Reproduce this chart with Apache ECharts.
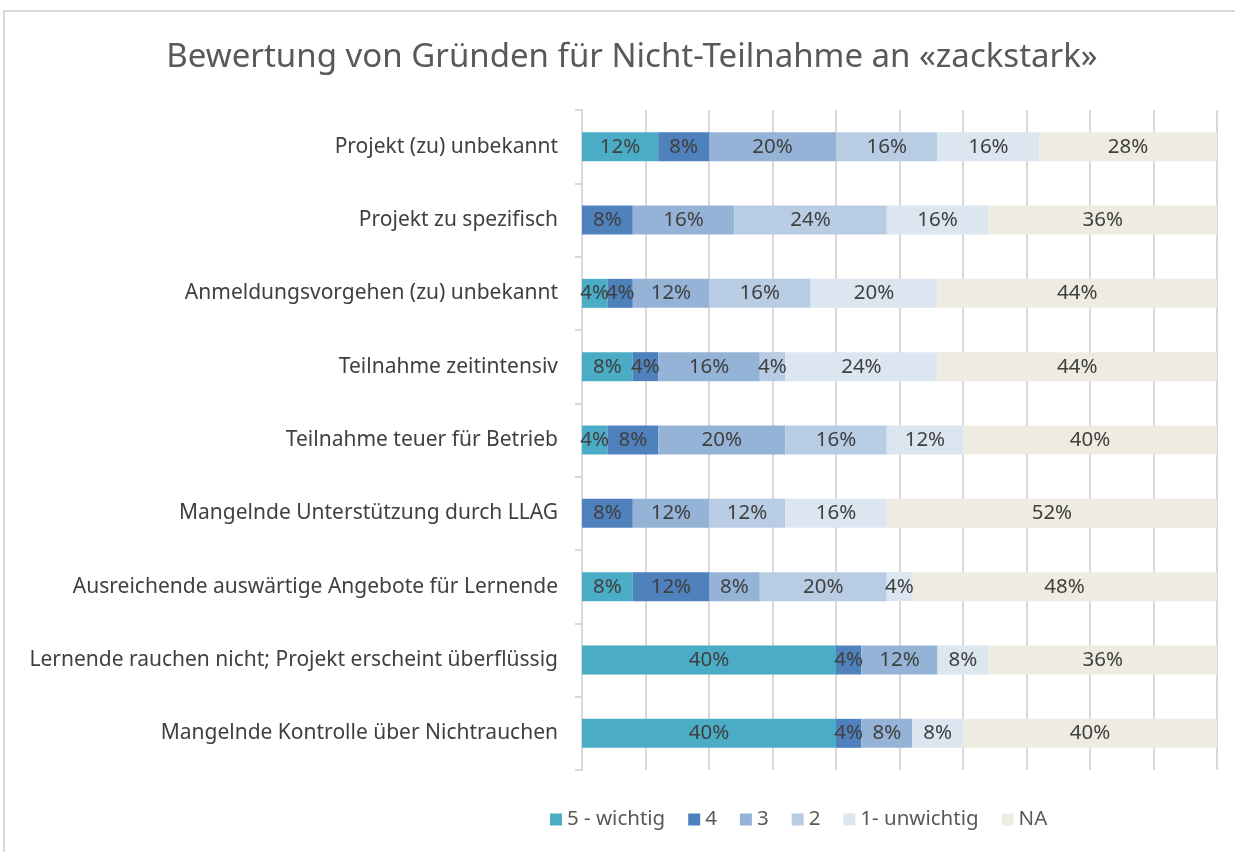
<!DOCTYPE html>
<html>
<head>
<meta charset="utf-8">
<script src="https://cdn.jsdelivr.net/npm/echarts@6/dist/echarts.min.js"></script>
<style>
  html, body { margin: 0; padding: 0; background: #fff; }
  #chart { width: 1235px; height: 852px; }
</style>
</head>
<body>
<div id="chart"></div>
<script>
// Kategorien (von oben nach unten)
const categories = [
  'Projekt (zu) unbekannt',
  'Projekt zu spezifisch',
  'Anmeldungsvorgehen (zu) unbekannt',
  'Teilnahme zeitintensiv',
  'Teilnahme teuer für Betrieb',
  'Mangelnde Unterstützung durch LLAG',
  'Ausreichende auswärtige Angebote für Lernende',
  'Lernende rauchen nicht; Projekt erscheint überflüssig',
  'Mangelnde Kontrolle über Nichtrauchen'
];

// Anteile in Prozent je Bewertung
const wichtig5   = [12, 0, 4, 8, 4, 0, 8, 40, 40];
const stufe4     = [8, 8, 4, 4, 8, 8, 12, 4, 4];
const stufe3     = [20, 16, 12, 16, 20, 12, 8, 12, 8];
const stufe2     = [16, 24, 16, 4, 16, 12, 20, 0, 0];
const unwichtig1 = [16, 16, 20, 24, 12, 16, 4, 8, 8];
const na         = [28, 36, 44, 44, 40, 52, 48, 36, 40];

const seriesNames = ['5 - wichtig', '4', '3', '2', '1- unwichtig', 'NA'];
const seriesData = [wichtig5, stufe4, stufe3, stufe2, unwichtig1, na];
const colors = ['#4bacc6', '#4f81bd', '#95b3d7', '#b8cce4', '#dce6f1', '#eeece1'];

const font = 'Noto Sans';

const chart = echarts.init(document.getElementById('chart'));
chart.setOption({
  animation: false,
  color: colors,
  textStyle: { fontFamily: font },
  title: {
    text: 'Bewertung von Gründen für Nicht-Teilnahme an «zackstark»',
    left: 627,
    textAlign: 'center',
    top: 36,
    textStyle: { fontFamily: font, fontSize: 33, fontWeight: 'normal', color: '#595959' }
  },
  graphic: [{
    type: 'rect',
    shape: { x: 4, y: 11, width: 1400, height: 1000 },
    style: { fill: 'none', stroke: '#d9d9d9', lineWidth: 2 },
    silent: true
  }],
  legend: {
    left: 545,
    top: 804,
    icon: 'rect',
    itemWidth: 12,
    itemHeight: 12,
    itemGap: 23,
    textStyle: { fontFamily: font, fontSize: 20.5, color: '#595959' },
    data: seriesNames
  },
  grid: { left: 582, right: 18, top: 110, bottom: 82, containLabel: false },
  xAxis: {
    type: 'value',
    min: 0,
    max: 100,
    interval: 10,
    axisLabel: { show: false },
    axisLine: { show: false },
    axisTick: { show: false },
    splitLine: { lineStyle: { color: '#d9d9d9', width: 2 } }
  },
  yAxis: {
    type: 'category',
    inverse: true,
    data: categories,
    axisLine: { show: true, lineStyle: { color: '#d9d9d9', width: 2 } },
    axisTick: { show: true, length: 7, lineStyle: { color: '#d9d9d9', width: 2 } },
    axisLabel: { fontFamily: font, fontSize: 21, color: '#404040', margin: 24 }
  },
  series: seriesNames.map((name, i) => ({
    name: name,
    type: 'bar',
    stack: 'total',
    barWidth: 29,
    data: seriesData[i],
    label: {
      show: true,
      position: 'inside',
      fontFamily: font,
      fontSize: 20.5,
      color: '#404040',
      formatter: p => (p.value > 0 ? p.value + '%' : '')
    }
  }))
});
</script>
</body>
</html>
